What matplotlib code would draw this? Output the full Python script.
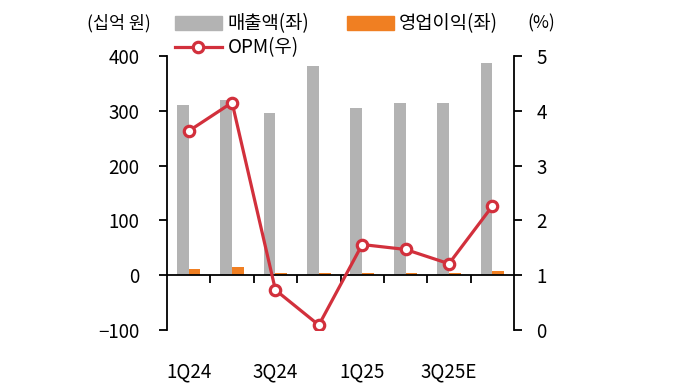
import numpy as np
import matplotlib
matplotlib.use("Agg")
import matplotlib.pyplot as plt
from matplotlib.patches import Patch
from matplotlib.lines import Line2D

plt.rcParams['font.family'] = ['Noto Sans CJK KR', 'DejaVu Sans']

# Data (십억 원, %)
quarters = ["1Q24", "2Q24", "3Q24", "4Q24", "1Q25", "2Q25", "3Q25E", "4Q25E"]
revenue = [311, 320, 296, 382, 305, 315, 315, 387]
op_profit = [11, 14.5, 4.5, 4, 4, 4, 3.5, 8.5]
opm = [3.63, 4.15, 0.73, 0.09, 1.56, 1.47, 1.21, 2.26]

gray = '#b3b3b3'
orange = '#f07f22'
red = '#d2303c'
fs = 13.5

fig = plt.figure(figsize=(6.8, 3.86), dpi=100)
ax = fig.add_axes([0.2456, 0.145, 0.5103, 0.710])
ax2 = ax.twinx()

x = np.arange(len(quarters))
w = 0.27
ax.bar(x - w / 2, revenue, w, color=gray, zorder=2)
ax.bar(x + w / 2, op_profit, w, color=orange, zorder=2)

ax.set_xlim(-0.5, len(quarters) - 0.5)
ax.set_ylim(-100, 400)
ax.set_yticks([-100, 0, 100, 200, 300, 400])

ax2.plot(x, opm, color=red, lw=2.3, marker='o', ms=7.5, mfc='white',
         mec=red, mew=2.3, zorder=5)
ax2.set_ylim(0, 5)
ax2.set_yticks([0, 1, 2, 3, 4, 5])

# spines
for a in (ax, ax2):
    a.spines['top'].set_visible(False)
ax.spines['right'].set_visible(False)
ax2.spines['bottom'].set_visible(False)
ax2.spines['left'].set_visible(False)
ax.spines['bottom'].set_position(('data', 0))
for s in ('left', 'bottom'):
    ax.spines[s].set_linewidth(1.3)
ax2.spines['right'].set_linewidth(1.3)

ax.tick_params(axis='y', direction='out', length=6, width=1.3, pad=14,
               labelsize=fs)
ax2.tick_params(axis='y', direction='out', length=6, width=1.3, pad=10,
                labelsize=fs)

# x ticks: boundary ticks down, labels at every other quarter at bottom
ax.set_xticks(x)
ax.set_xticklabels([q if i % 2 == 0 else '' for i, q in enumerate(quarters)])
ax.set_xticks(x[:-1] + 0.5, minor=True)
ax.tick_params(axis='x', which='major', length=0, pad=62, labelsize=fs)
ax.tick_params(axis='x', which='minor', direction='out', length=6, width=1.3)

ax.set_zorder(ax2.get_zorder() - 1)
ax.patch.set_visible(False)

# unit labels
fig.text(119 / 680, 1 - 23 / 386, '(십억 원)', fontsize=fs - 1,
         ha='center', va='center')
fig.text(541 / 680, 1 - 23 / 386, '(%)', fontsize=fs - 1,
         ha='center', va='center')

# legends
bar_handles = [Patch(color=gray), Patch(color=orange)]
leg1 = fig.legend(bar_handles, ['매출액(좌)', '영업이익(좌)'], ncol=2,
                  loc='center left', bbox_to_anchor=(175 / 680, 1 - 24 / 386),
                  frameon=False, fontsize=fs, handlelength=2.5,
                  handleheight=0.8, handletextpad=0.3, columnspacing=2.0,
                  borderpad=0, borderaxespad=0)
line_handle = [Line2D([], [], color=red, lw=2.3, marker='o', ms=7.5,
                      mfc='white', mec=red, mew=2.3)]
fig.legend(line_handle, ['OPM(우)'], loc='center left',
           bbox_to_anchor=(175 / 680, 1 - 48 / 386), frameon=False,
           fontsize=fs, handlelength=2.5, handletextpad=0.3,
           borderpad=0, borderaxespad=0)

fig.savefig('out.png', dpi=100)
